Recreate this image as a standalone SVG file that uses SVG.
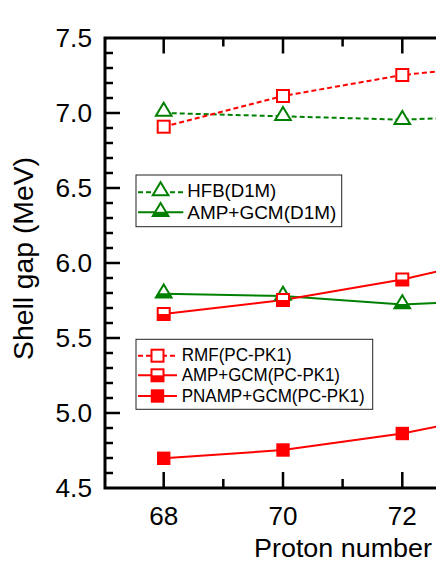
<svg xmlns="http://www.w3.org/2000/svg" width="436" height="564" viewBox="0 0 436 564">
<style>
text{font-family:"Liberation Sans",Arial,sans-serif;fill:#000}
.tick{stroke:#000;stroke-width:2.5;fill:none}
.spine{stroke:#000;stroke-width:3;fill:none;stroke-linecap:square}
.ylab{font-size:25px;text-anchor:end}
.xlab{font-size:25px;text-anchor:middle}
.leg{font-size:18px}
.red{stroke:#ff0000;stroke-width:2;fill:none}
.green{stroke:#008000;stroke-width:2;fill:none}
.dash{stroke-dasharray:5 3}
.box{fill:#fff;stroke:#222;stroke-width:1}
</style>
<defs>
<g id="sqOpen"><rect x="-6" y="-6" width="12" height="12" fill="#fff" stroke="#ff0000" stroke-width="2"/></g>
<g id="sqHalf"><rect x="-6" y="-6" width="12" height="12" fill="#fff" stroke="#ff0000" stroke-width="2"/><rect x="-6" y="0" width="12" height="6" fill="#ff0000"/></g>
<g id="sqFill"><rect x="-6.7" y="-6.7" width="13.4" height="13.4" fill="#ff0000"/></g>
<g id="triOpen"><polygon points="0,-9.3 7.8,3.7 -7.8,3.7" fill="#fff" stroke="#008000" stroke-width="2"/></g>
<g id="triHalf"><polygon points="0,-9.3 7.8,3.7 -7.8,3.7" fill="#fff" stroke="#008000" stroke-width="2"/><polygon points="-5.6,0 5.6,0 7.8,3.7 -7.8,3.7" fill="#008000" stroke="#008000" stroke-width="1"/></g>
</defs>

<g id="axes">
<path class="spine" d="M105,38 H440 M105,488 H440 M105,38 V488"/>
<g id="y-ticks" class="tick">
<path d="M105,113 h15 M105,188 h15 M105,263 h15 M105,338 h15 M105,413 h15"/>
<path d="M105,53 h8 M105,68 h8 M105,83 h8 M105,98 h8 M105,128 h8 M105,143 h8 M105,158 h8 M105,173 h8 M105,203 h8 M105,218 h8 M105,233 h8 M105,248 h8 M105,278 h8 M105,293 h8 M105,308 h8 M105,323 h8 M105,353 h8 M105,368 h8 M105,383 h8 M105,398 h8 M105,428 h8 M105,443 h8 M105,458 h8 M105,473 h8"/>
</g>
<g id="x-ticks" class="tick">
<path d="M163.7,38 v15.5 M283,38 v15.5 M402.3,38 v15.5 M223.3,38 v8.5 M342.6,38 v8.5"/>
<path d="M163.7,488 v-16 M283,488 v-16 M402.3,488 v-16 M223.3,488 v-9 M342.6,488 v-9"/>
</g>
<g id="y-tick-labels" class="ylab">
<text x="92" y="47" textLength="36.5" lengthAdjust="spacingAndGlyphs">7.5</text>
<text x="92" y="122" textLength="36.5" lengthAdjust="spacingAndGlyphs">7.0</text>
<text x="92" y="197" textLength="36.5" lengthAdjust="spacingAndGlyphs">6.5</text>
<text x="92" y="272" textLength="36.5" lengthAdjust="spacingAndGlyphs">6.0</text>
<text x="92" y="347" textLength="36.5" lengthAdjust="spacingAndGlyphs">5.5</text>
<text x="92" y="422" textLength="36.5" lengthAdjust="spacingAndGlyphs">5.0</text>
<text x="92" y="497" textLength="36.5" lengthAdjust="spacingAndGlyphs">4.5</text>
</g>
<g id="x-tick-labels" class="xlab">
<text x="163.7" y="524.5" textLength="29" lengthAdjust="spacingAndGlyphs">68</text>
<text x="283" y="524.5" textLength="29" lengthAdjust="spacingAndGlyphs">70</text>
<text x="402.3" y="524.5" textLength="29" lengthAdjust="spacingAndGlyphs">72</text>
</g>
<text id="x-title" x="254" y="556.5" font-size="26" textLength="178" lengthAdjust="spacingAndGlyphs">Proton number</text>
<text id="y-title" transform="translate(32.5,360) rotate(-90)" x="0" y="0" font-size="28.5" textLength="203" lengthAdjust="spacingAndGlyphs">Shell gap (MeV)</text>
</g>

<g id="connectors">
<polyline id="line-hfb" class="green dash" points="163.7,113 283,116.3 402.3,119.7 440,118.2"/>
<polyline id="line-amp-d1m" class="green" points="163.7,293.8 283,296 402.3,304.5 440,302.8"/>
<polyline id="line-rmf" class="red dash" points="163.7,126.7 283,96 402.3,75 440,71.3"/>
<polyline id="line-amp-pc" class="red" points="163.7,314 283,300 402.3,279.5 440,270.8"/>
<polyline id="line-pnamp" class="red" points="163.7,458.3 283,450 402.3,433.5 440,425.9"/>
</g>

<g id="series-hfb">
<use href="#triOpen" x="163.7" y="112"/>
<use href="#triOpen" x="283" y="116.3"/>
<use href="#triOpen" x="402.3" y="120.2"/>
</g>
<g id="series-amp-d1m">
<use href="#triHalf" x="163.7" y="293.8"/>
<use href="#triHalf" x="283" y="296"/>
<use href="#triHalf" x="402.3" y="304.5"/>
</g>
<g id="series-rmf">
<use href="#sqOpen" x="163.7" y="126.7"/>
<use href="#sqOpen" x="283" y="96"/>
<use href="#sqOpen" x="402.3" y="75"/>
</g>
<g id="series-amp-pc">
<use href="#sqHalf" x="163.7" y="314"/>
<use href="#sqHalf" x="283" y="300"/>
<use href="#sqHalf" x="402.3" y="279.5"/>
</g>
<g id="series-pnamp">
<use href="#sqFill" x="163.7" y="458.3"/>
<use href="#sqFill" x="283" y="450"/>
<use href="#sqFill" x="402.3" y="433.5"/>
</g>

<g id="legend-d1m">
<rect class="box" x="136" y="175" width="205.7" height="51.7"/>
<line class="green dash" x1="138" y1="192.3" x2="183.3" y2="192.3"/>
<use href="#triOpen" x="160.6" y="191.5"/>
<text class="leg" x="187.3" y="196.5" textLength="89" lengthAdjust="spacingAndGlyphs">HFB(D1M)</text>
<line class="green" x1="138" y1="212.3" x2="183.3" y2="212.3"/>
<use href="#triHalf" x="160.6" y="212.3"/>
<text class="leg" x="187.3" y="218.7" textLength="149" lengthAdjust="spacingAndGlyphs">AMP+GCM(D1M)</text>
</g>

<g id="legend-pcpk1">
<rect class="box" x="136" y="339.3" width="236.7" height="70"/>
<line class="red dash" x1="138" y1="355.7" x2="177" y2="355.7"/>
<use href="#sqOpen" x="157.5" y="355.7"/>
<text class="leg" x="181.7" y="361.3" font-size="17" textLength="110" lengthAdjust="spacingAndGlyphs">RMF(PC-PK1)</text>
<line class="red" x1="138" y1="375.3" x2="177" y2="375.3"/>
<use href="#sqHalf" x="157.5" y="375.3"/>
<text class="leg" x="181.7" y="381.2" font-size="17" textLength="158.3" lengthAdjust="spacingAndGlyphs">AMP+GCM(PC-PK1)</text>
<line class="red" x1="138" y1="396" x2="177" y2="396"/>
<use href="#sqFill" x="157.5" y="396"/>
<text class="leg" x="181.7" y="401.9" font-size="17" textLength="183" lengthAdjust="spacingAndGlyphs">PNAMP+GCM(PC-PK1)</text>
</g>
</svg>
